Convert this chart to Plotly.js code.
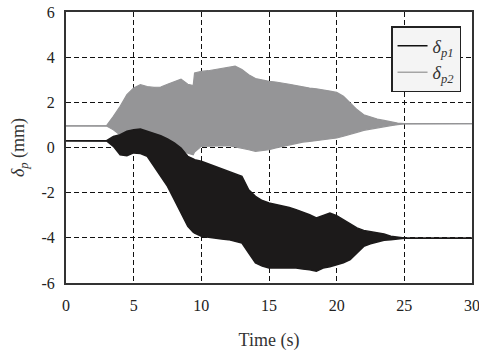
<!DOCTYPE html>
<html>
<head>
<meta charset="utf-8">
<script src="https://cdn.plot.ly/plotly-3.0.1.min.js"></script>
<style>html,body{margin:0;padding:0;background:#fff;}#chart{width:479px;height:351px;}</style>
</head>
<body>
<div id="chart"></div>
<script>
// Time samples (s) at which the oscillation envelopes were read
const time = [0, 3, 3.5, 4, 4.5, 5, 5.5, 6, 6.5, 7, 7.5, 8, 8.5, 9, 9.4, 9.5, 10, 10.5, 11, 11.5, 12, 12.5, 13, 13.5, 14, 14.5, 15, 15.5, 16, 16.5, 17, 17.5, 18, 18.5, 19, 19.5, 20, 20.5, 21, 21.5, 22, 22.5, 23, 23.5, 24, 24.5, 25, 30];

// delta_p2 (grey) envelope, mm
const p2Upper = [0.96, 0.97, 1.38, 1.82, 2.34, 2.63, 2.78, 2.70, 2.66, 2.68, 2.80, 2.93, 3.03, 2.80, 2.74, 3.30, 3.37, 3.40, 3.45, 3.48, 3.52, 3.60, 3.45, 3.22, 3.05, 2.98, 2.93, 2.90, 2.86, 2.80, 2.74, 2.68, 2.63, 2.60, 2.56, 2.50, 2.44, 2.27, 1.97, 1.68, 1.45, 1.35, 1.26, 1.20, 1.14, 1.08, 1.06, 1.06];
const p2Lower = [0.96, 0.95, 0.79, 0.55, 0.40, 0.30, 0.25, 0.20, 0.15, 0.10, 0.05, 0.00, -0.10, -0.25, -0.32, -0.20, 0.05, 0.05, 0.05, 0.06, 0.08, 0.03, -0.02, -0.10, -0.17, -0.15, -0.10, -0.02, 0.05, 0.12, 0.20, 0.24, 0.27, 0.31, 0.35, 0.38, 0.42, 0.50, 0.57, 0.67, 0.76, 0.82, 0.86, 0.92, 0.97, 1.01, 1.04, 1.06];

// delta_p1 (black) envelope, mm
const p1Upper = [0.30, 0.30, 0.49, 0.57, 0.72, 0.79, 0.82, 0.72, 0.64, 0.52, 0.38, 0.20, -0.02, -0.39, -0.50, -0.54, -0.61, -0.72, -0.83, -0.95, -1.06, -1.15, -1.28, -1.87, -2.16, -2.35, -2.46, -2.52, -2.58, -2.66, -2.75, -2.86, -2.98, -3.12, -3.02, -2.90, -3.02, -3.20, -3.37, -3.56, -3.67, -3.72, -3.76, -3.83, -3.93, -3.98, -4.01, -4.02];
const p1Lower = [0.30, 0.29, 0.05, -0.32, -0.36, -0.24, -0.27, -0.39, -0.83, -1.28, -1.72, -2.31, -2.90, -3.49, -3.75, -3.79, -3.93, -3.98, -4.01, -4.05, -4.08, -4.15, -4.23, -4.67, -5.11, -5.25, -5.34, -5.34, -5.34, -5.34, -5.34, -5.38, -5.41, -5.48, -5.34, -5.28, -5.19, -5.10, -4.97, -4.67, -4.38, -4.26, -4.18, -4.11, -4.08, -4.04, -4.02, -4.02];

const xTicks = [0, 5, 10, 15, 20, 25, 30];
const yTicks = [-6, -4, -2, 0, 2, 4, 6];
const seriesNames = ['<i>δ</i><sub><i>p1</i></sub>', '<i>δ</i><sub><i>p2</i></sub>'];

const grey = '#959597';
const black = '#1c1a1a';
const serif = '"Liberation Serif", "Times New Roman", serif';

const traces = [
  {x: time, y: p2Upper, mode: 'lines', line: {color: grey, width: 1.2}, showlegend: false, hoverinfo: 'skip'},
  {x: time, y: p2Lower, mode: 'lines', line: {color: grey, width: 1.2}, fill: 'tonexty', fillcolor: grey, showlegend: false, hoverinfo: 'skip'},
  {x: time, y: p1Upper, mode: 'lines', line: {color: black, width: 1.5}, showlegend: false, hoverinfo: 'skip'},
  {x: time, y: p1Lower, mode: 'lines', line: {color: black, width: 1.5}, fill: 'tonexty', fillcolor: black, showlegend: false, hoverinfo: 'skip'},
  {x: [null], y: [null], mode: 'lines', line: {color: '#111', width: 1.5}, name: seriesNames[0]},
  {x: [null], y: [null], mode: 'lines', line: {color: '#a5a5a5', width: 1.5}, name: seriesNames[1]}
];

const axisCommon = {
  showline: true, mirror: true, linecolor: '#333', linewidth: 2,
  showgrid: true, gridcolor: '#111', gridwidth: 1, griddash: '5px,3px',
  zeroline: false, ticks: '', tickfont: {family: serif, size: 16, color: '#222'},
  tickmode: 'array', ticklabeloverflow: 'allow'
};

const layout = {
  width: 479, height: 351,
  margin: {l: 66, r: 7, t: 12, b: 68},
  paper_bgcolor: '#fff', plot_bgcolor: '#fff',
  font: {family: serif, color: '#333'},
  xaxis: Object.assign({}, axisCommon, {
    range: [0, 30], tickvals: xTicks, ticktext: xTicks.map(String), ticklabelstandoff: 7,
    title: {text: 'Time (s)', font: {family: serif, size: 18, color: '#333'}, standoff: 20}
  }),
  yaxis: Object.assign({}, axisCommon, {
    range: [-6, 6], tickvals: yTicks, ticktext: yTicks.map(String), ticklabelstandoff: 6,
    title: {text: '<i>δ</i><sub><i>p</i></sub> (mm)', font: {family: serif, size: 18, color: '#333'}, standoff: 12}
  }),
  showlegend: true,
  legend: {
    x: 0.973, y: 0.948, xanchor: 'right', yanchor: 'top', traceorder: 'normal',
    bgcolor: '#f4f4f4', bordercolor: '#222', borderwidth: 1.5,
    font: {family: serif, size: 18, color: '#333'}, itemwidth: 30
  }
};

Plotly.newPlot('chart', traces, layout, {displayModeBar: false, staticPlot: true});
</script>
</body>
</html>
